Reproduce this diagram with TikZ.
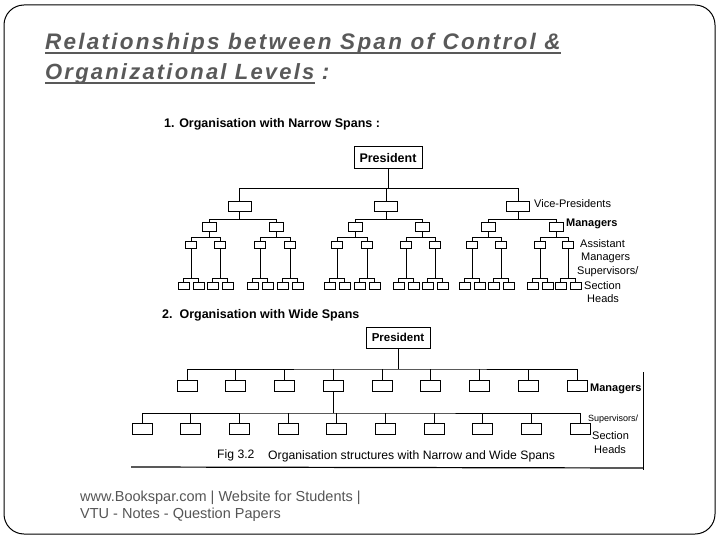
\documentclass[tikz,border=0pt]{standalone}
\usepackage{fontspec}
\setmainfont{Liberation Sans}
\newfontfamily\titlefont[LetterSpace=10]{Liberation Sans}
\usetikzlibrary{calc}
\definecolor{titlegray}{HTML}{595959}
\definecolor{footgray}{HTML}{555555}
\tikzset{
  box/.style={draw, line width=1pt, inner sep=0pt, fill=white},
  presbox/.style={box, minimum width=68pt, minimum height=22pt, font=\fontsize{12.5}{14}\selectfont\bfseries},
  vpbox/.style={box, minimum width=23pt, minimum height=10pt},
  mgrbox/.style={box, minimum width=14pt, minimum height=9pt},
  asbox/.style={box, minimum width=11pt, minimum height=7pt},
  leafbox/.style={box, minimum width=11pt, minimum height=7pt},
  widebox/.style={box, minimum width=20pt, minimum height=11pt},
  conn/.style={line width=0.9pt},
  lbl/.style={anchor=west, inner sep=0pt, font=\fontsize{11}{13}\selectfont},
  ttl/.style={anchor=base west, inner sep=0pt, text=titlegray, font=\fontsize{22.5}{26}\selectfont\titlefont\bfseries\itshape},
  foot/.style={anchor=base west, inner sep=0pt, text=footgray, font=\fontsize{14.5}{17}\selectfont}
}
\begin{document}
\begin{tikzpicture}[x=1pt,y=-1pt]
\useasboundingbox (0,0) rectangle (720,540);
\draw[line width=1pt, rounded corners=20pt] (4,5) rectangle (715,534);

% title
\node[ttl] (T1) at (45,50) {Relationships between Span of Control \&};
\draw[titlegray, line width=1.5pt] ([yshift=-3pt]T1.base west) -- ([yshift=-3pt]T1.base east);
\node[ttl, font=\fontsize{22}{26}\selectfont\titlefont\bfseries\itshape] (T2) at (45,80) {Organizational Levels};
\draw[titlegray, line width=1.5pt] ([yshift=-3pt]T2.base west) -- ([yshift=-3pt]T2.base east);
\node[ttl, anchor=base west] (T3) at ([xshift=7pt]T2.base east) {:};

% footer
\node[foot] (F1) at (80,501) {www.Bookspar.com | Website for Students |};
\node[foot] (F2) at (80,518) {VTU - Notes - Question Papers};

% ---------- narrow spans ----------
\node[anchor=west, inner sep=0pt, font=\fontsize{12.5}{14}\selectfont\bfseries] (H1) at (164,124) {1. Organisation with Narrow Spans :};
\node[presbox] (P1) at (388,158) {President};
\foreach \i/\x in {1/239.5,2/386,3/518}
  \node[vpbox] (V\i) at (\x,207) {};
\draw[conn] (P1.south) -- ++(0,19) coordinate (pj1);
\draw[conn] (V1.north) |- (pj1) -| (V3.north);
\draw[conn] (V2.north) -- (V2.north |- pj1);

\foreach \i/\x in {1/209,2/276,3/355,4/422,5/488,6/556}
  \node[mgrbox] (M\i) at (\x,227) {};
\foreach \v in {1,2,3}{
  \pgfmathtruncatemacro\ma{2*\v-1}
  \pgfmathtruncatemacro\mb{2*\v}
  \draw[conn] (V\v.south) -- ++(0,7) coordinate (vj\v);
  \draw[conn] (M\ma.north) |- (vj\v) -| (M\mb.north);
}

\foreach \i/\x in {1/191,2/220,3/260,4/290,5/337,6/367,7/406,8/435,9/472,10/501,11/540,12/568}{
  \node[asbox] (A\i) at (\x,245) {};
  \node[leafbox] (La\i) at (\x-7.5,286) {};
  \node[leafbox] (Lb\i) at (\x+7.5,286) {};
  \draw[conn] (A\i.south) -- ++(0,29.5) coordinate (aj\i);
  \draw[conn] (La\i.north) |- (aj\i) -| (Lb\i.north);
}
\foreach \m in {1,...,6}{
  \pgfmathtruncatemacro\aa{2*\m-1}
  \pgfmathtruncatemacro\ab{2*\m}
  \draw[conn] (M\m.south) -- ++(0,5.5) coordinate (mj\m);
  \draw[conn] (A\aa.north) |- (mj\m) -| (A\ab.north);
}

\node[lbl] (LVP) at (534,204) {Vice-Presidents};
\node[lbl, font=\fontsize{11}{13}\selectfont\bfseries] (LM) at (566,224) {Managers};
\node[lbl] (LA1) at (580,244) {Assistant};
\node[lbl] (LA2) at (581,258) {Managers};
\node[lbl] (LA3) at (577,272) {Supervisors/};
\node[lbl] (LA4) at (584,286) {Section};
\node[lbl] (LA5) at (587,299) {Heads};

% ---------- wide spans ----------
\node[anchor=west, inner sep=0pt, font=\fontsize{12.5}{14}\selectfont\bfseries] (H2) at (162,315) {2.\ \ Organisation with Wide Spans};
\node[presbox, minimum width=64pt, minimum height=21pt, font=\fontsize{11.5}{13}\selectfont\bfseries] (P2) at (398,337.5) {President};
\foreach \k in {0,...,8}
  \node[widebox] (W\k) at (187+48.75*\k,386) {};
\draw[conn] (P2.south) -- ++(0,20.5) coordinate (pj2);
\draw[conn] (W0.north) |- (pj2) -| (W8.north);
\foreach \k in {1,...,7}
  \draw[conn] (W\k.north) -- (W\k.north |- pj2);

\foreach \k in {0,...,9}
  \node[widebox] (S\k) at (142+48.67*\k,428.5) {};
\draw[conn] (W3.south) -- ++(0,21) coordinate (wj);
\draw[conn] (S0.north) |- (wj) -| (S9.north);
\foreach \k in {1,...,8}
  \draw[conn] (S\k.north) -- (S\k.north |- wj);

\node[lbl, font=\fontsize{11}{13}\selectfont\bfseries] (LW1) at (590,389) {Managers};
\node[lbl, font=\fontsize{9}{10}\selectfont] (LW2) at (588,419) {Supervisors/};
\node[lbl] (LW3) at (592,436) {Section};
\node[lbl] (LW4) at (594,450) {Heads};

\node[anchor=west, inner sep=0pt, font=\fontsize{12.2}{14}\selectfont] (C1) at (217,455) {Fig 3.2};
\node[anchor=west, inner sep=0pt, font=\fontsize{12.2}{14}\selectfont] (C2) at (268,456) {Organisation structures with Narrow and Wide Spans};

% scan frame
\draw[line width=1.2pt] (131,467) -- (643,468);
\draw[line width=1pt] (643,372) -- (643,470);
\end{tikzpicture}
\end{document}
